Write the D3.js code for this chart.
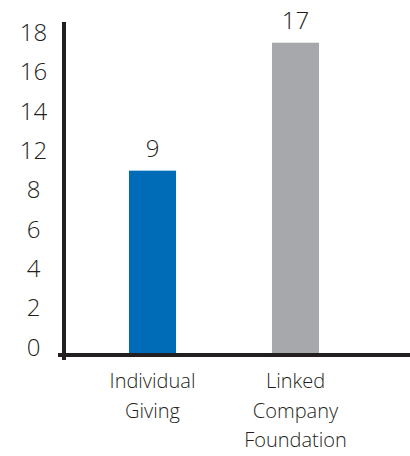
<!DOCTYPE html>
<html>
<head>
<meta charset="utf-8">
<script src="https://cdn.jsdelivr.net/npm/d3@7"></script>
<style>
  html, body { margin: 0; padding: 0; background: #fff; }
  svg { display: block; }
  text { font-family: "Open Sans", "Noto Sans", sans-serif; font-weight: 300; fill: #231f20; }
</style>
</head>
<body>
<div id="chart"></div>
<script>
// Chart data
const categories = ["Individual Giving", "Linked Company Foundation"];
const categoryLines = [["Individual", "Giving"], ["Linked", "Company", "Foundation"]];
const values = [9, 17];
const barColors = ["#006bb6", "#a7a8ac"];
const yTickValues = [0, 2, 4, 6, 8, 12, 14, 16, 18];

const width = 410, height = 456;
const axisX = 64;      // vertical axis line
const baseY = 355;     // horizontal axis line

const svg = d3.select("#chart").append("svg")
  .attr("width", width)
  .attr("height", height);

// Tick labels sit evenly spaced; the value scale runs through them piecewise
const tickPos = d3.scalePoint()
  .domain(d3.range(yTickValues.length))
  .range([338, 23]);
const y = d3.scaleLinear()
  .domain(yTickValues)
  .range(yTickValues.map((d, i) => tickPos(i)));

const x = d3.scaleBand()
  .domain(categories)
  .range([81, 367])
  .paddingInner(0.671)
  .paddingOuter(0.3355);

// Bars
svg.selectAll("rect.bar")
  .data(categories)
  .join("rect")
  .attr("class", "bar")
  .attr("x", d => x(d))
  .attr("y", (d, i) => y(values[i]))
  .attr("width", x.bandwidth())
  .attr("height", (d, i) => baseY - y(values[i]))
  .attr("fill", (d, i) => barColors[i]);

// Value labels
svg.selectAll("text.value")
  .data(categories)
  .join("text")
  .attr("class", "value")
  .attr("x", d => x(d) + x.bandwidth() / 2)
  .attr("y", (d, i) => y(values[i]) - 14)
  .attr("text-anchor", "middle")
  .attr("font-size", 24)
  .text((d, i) => values[i]);

// Y axis labels
const yAxis = svg.append("g")
  .attr("transform", `translate(${axisX},0)`)
  .call(d3.axisLeft(y).tickValues(yTickValues).tickSize(0).tickPadding(0));
yAxis.select(".domain").remove();
yAxis.attr("font-family", null).attr("font-size", null);
yAxis.selectAll("text")
  .attr("x", -30.5)
  .attr("dy", "0.72em")
  .attr("text-anchor", "middle")
  .attr("font-size", 24)
  .style("fill", "#231f20");

// Axis lines
svg.append("line")
  .attr("x1", axisX).attr("x2", axisX)
  .attr("y1", 22).attr("y2", 360)
  .attr("stroke", "#231f20").attr("stroke-width", 4);
svg.append("line")
  .attr("x1", 58).attr("x2", width)
  .attr("y1", baseY).attr("y2", baseY)
  .attr("stroke", "#231f20").attr("stroke-width", 4);

// Category labels
svg.selectAll("text.cat")
  .data(categories)
  .join("text")
  .attr("class", "cat")
  .attr("text-anchor", "middle")
  .attr("font-size", 20)
  .attr("x", d => x(d) + x.bandwidth() / 2)
  .attr("y", 388)
  .selectAll("tspan")
  .data((d, i) => categoryLines[i])
  .join("tspan")
  .attr("x", function() { return this.parentNode.getAttribute("x"); })
  .attr("dy", (d, i) => i === 0 ? 0 : 29.5)
  .text(d => d);
</script>
</body>
</html>
